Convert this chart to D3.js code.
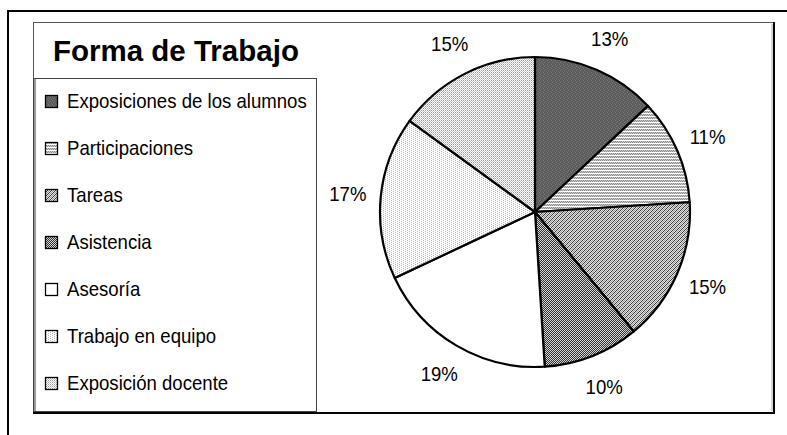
<!DOCTYPE html>
<html><head><meta charset="utf-8">
<script src="https://cdn.jsdelivr.net/npm/d3@7"></script>
<style>
  body { margin: 0; background: #fff; }
  svg { display: block; }
  text { font-family: "Liberation Sans", Arial, sans-serif; fill: #000; }
</style>
</head><body>
<svg id="chart" width="787" height="435"></svg>
<script>
// Chart data
const chartTitle = "Forma de Trabajo";
const categories = [
  "Exposiciones de los alumnos",
  "Participaciones",
  "Tareas",
  "Asistencia",
  "Asesoría",
  "Trabajo en equipo",
  "Exposición docente"
];
const values = [13, 11, 15, 10, 19, 17, 15];
const percentLabels = ["13%", "11%", "15%", "10%", "19%", "17%", "15%"];

// Monochrome fill patterns, one per category (pixel tiles)
const patternDefs = [
  { w: 4, h: 4, bg: "#5c5c5c", px: [[0,0,"#7c7c7c"],[2,1,"#6e6e6e"],[1,2,"#7c7c7c"],[3,3,"#6e6e6e"]] },
  { w: 2, h: 3, bg: "#ffffff", px: [[0,1,"#8c8c8c"],[1,1,"#c8c8c8"],[0,2,"#c8c8c8"],[1,2,"#8c8c8c"]] },
  { w: 4, h: 4, bg: "#e2e2e2", px: [[0,3,"#3a3a3a"],[1,2,"#3a3a3a"],[2,1,"#3a3a3a"],[3,0,"#3a3a3a"],[0,1,"#9a9a9a"],[1,0,"#9a9a9a"],[2,3,"#9a9a9a"],[3,2,"#9a9a9a"]] },
  { w: 2, h: 2, bg: "#d4d4d4", px: [[0,0,"#333333"],[1,1,"#333333"]] },
  { w: 2, h: 2, bg: "#ffffff", px: [] },
  { w: 4, h: 2, bg: "#ffffff", px: [[0,0,"#b4b4b4"],[2,1,"#b4b4b4"]] },
  { w: 2, h: 2, bg: "#ffffff", px: [[0,0,"#9a9a9a"],[1,1,"#c8c8c8"]] }
];

const svg = d3.select("#chart");
const defs = svg.append("defs");

patternDefs.forEach((p, i) => {
  const pat = defs.append("pattern")
    .attr("id", "pat" + i)
    .attr("patternUnits", "userSpaceOnUse")
    .attr("width", p.w).attr("height", p.h);
  pat.append("rect").attr("width", p.w).attr("height", p.h).attr("fill", p.bg);
  pat.selectAll("rect.px").data(p.px).join("rect")
    .attr("class", "px")
    .attr("x", d => d[0]).attr("y", d => d[1])
    .attr("width", 1).attr("height", 1)
    .attr("fill", d => d[2]);
});

const condense = 0.93;
const labelSize = 20;

// Outer frame (only top and left edges fall within the page)
svg.append("path")
  .attr("d", "M8,435 V11 H787")
  .attr("fill", "none").attr("stroke", "#000").attr("stroke-width", 2);

// Chart area frame
svg.append("rect")
  .attr("x", 33.5).attr("y", 22.5).attr("width", 740).attr("height", 390)
  .attr("fill", "#fff").attr("stroke", "#555").attr("stroke-width", 1);
svg.append("path")
  .attr("d", "M774,22 V413 H33")
  .attr("fill", "none").attr("stroke", "#000").attr("stroke-width", 2);
svg.append("path")
  .attr("d", "M772,24 V411")
  .attr("fill", "none").attr("stroke", "#aaa").attr("stroke-width", 1);

// Title
svg.append("text")
  .attr("x", 53).attr("y", 61)
  .attr("font-size", 29.5).attr("font-weight", "bold")
  .text(chartTitle);

// Legend box
svg.append("rect")
  .attr("x", 33.5).attr("y", 78.5).attr("width", 283).attr("height", 333)
  .attr("fill", "#fff").attr("stroke", "#444").attr("stroke-width", 1);
svg.append("line")
  .attr("x1", 35).attr("x2", 35).attr("y1", 79).attr("y2", 411)
  .attr("stroke", "#999").attr("stroke-width", 2);

const legendY = d3.scalePoint().domain(categories).range([100, 382]);

const legendItems = svg.append("g").selectAll("g")
  .data(categories).join("g")
  .attr("transform", d => `translate(0,${legendY(d)})`);

legendItems.append("rect")
  .attr("x", 45.5).attr("y", -4.5).attr("width", 12).attr("height", 12)
  .attr("fill", (d, i) => `url(#pat${i})`)
  .attr("stroke", "#000").attr("stroke-width", 1.3);

legendItems.append("g")
  .attr("transform", `translate(67,0) scale(${condense},1)`)
  .append("text")
  .attr("y", 7.5)
  .attr("font-size", labelSize)
  .text(d => d);

// Pie
const cx = 535, cy = 212, radius = 155;
const pie = d3.pie().sort(null).value(d => d)(values);
const arc = d3.arc().innerRadius(0).outerRadius(radius);
const labelArc = d3.arc().innerRadius(radius + 33).outerRadius(radius + 33);

const pieG = svg.append("g").attr("transform", `translate(${cx},${cy})`);

pieG.selectAll("path.slice")
  .data(pie).join("path")
  .attr("class", "slice")
  .attr("d", arc)
  .attr("fill", (d, i) => `url(#pat${i})`)
  .attr("stroke", "#000").attr("stroke-width", 2.2)
  .attr("stroke-linejoin", "round");

pieG.selectAll("g.lbl")
  .data(pie).join("g")
  .attr("class", "lbl")
  .attr("transform", d => {
    const [x, y] = labelArc.centroid(d);
    return `translate(${x},${y}) scale(${condense},1)`;
  })
  .append("text")
  .attr("text-anchor", "middle")
  .attr("y", 7)
  .attr("font-size", labelSize)
  .text((d, i) => percentLabels[i]);
</script>
</body></html>
